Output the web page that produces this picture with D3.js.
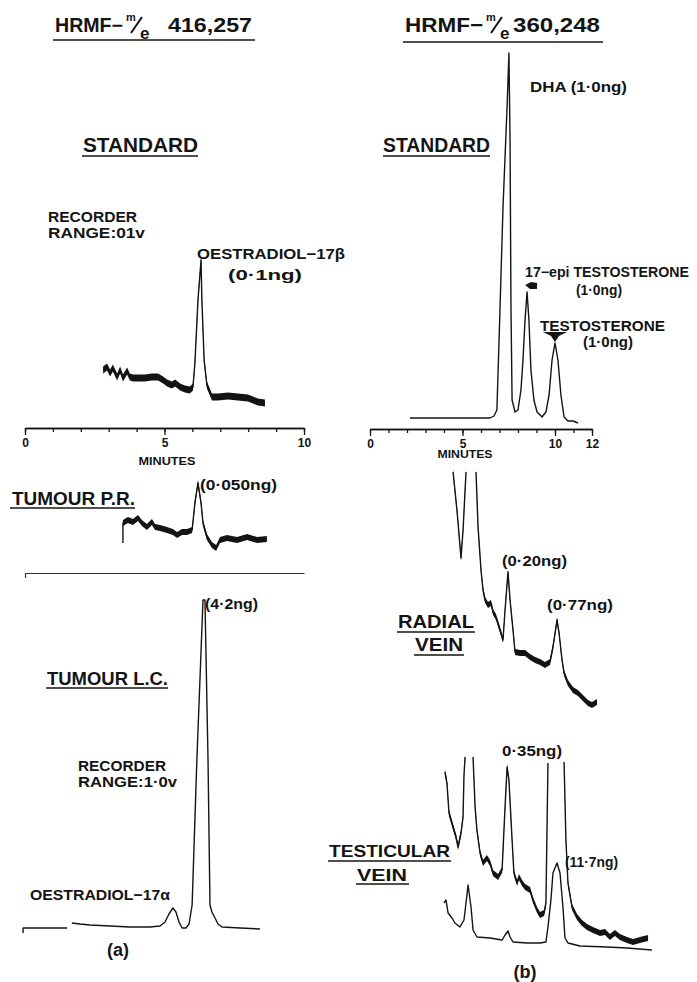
<!DOCTYPE html>
<html>
<head>
<meta charset="utf-8">
<script src="https://cdn.jsdelivr.net/npm/d3@7"></script>
<style>
  body { margin: 0; background: #fff; }
  svg text { font-family: "Liberation Sans", Arial, sans-serif; font-weight: bold; fill: #141414; }
</style>
</head>
<body>
<svg id="fig" width="697" height="982"></svg>
<script>
(function () {
  'use strict';

  // ---- panel (a): HRMF m/e 416,257 ; time in minutes, response in recorder units ----
  var stdATime = [2.80, 2.94, 3.05, 3.15, 3.30, 3.41, 3.51, 3.66, 3.76, 3.87, 4.05, 4.30, 4.55, 4.77, 4.95,
    5.09, 5.27, 5.38, 5.56, 5.73, 5.91, 6.02, 6.09, 6.20, 6.31, 6.34, 6.42, 6.52, 6.70, 6.92, 7.28,
    7.63, 7.99, 8.35, 8.60];
  var stdASignal = [40, 43, 37, 42, 33, 40, 32, 39, 33, 32, 32, 32, 33, 33, 30,
    27, 25, 27, 23, 21, 20, 23, 47, 110, 150, 110, 50, 25, 13, 13, 14,
    13, 12, 8, 7];

  var prTime = [3.51, 3.51, 3.69, 3.87, 4.05, 4.19, 4.37, 4.55, 4.66, 4.84, 5.09, 5.30, 5.45, 5.63, 5.81,
    5.99, 6.09, 6.20, 6.31, 6.38, 6.52, 6.70, 6.85, 6.99, 7.24, 7.60, 7.96, 8.32, 8.67];
  var prSignal = [7, 27, 30, 28, 32, 27, 23, 28, 23, 22, 20, 18, 15, 18, 18,
    20, 47, 67, 47, 27, 13, 5, 2, 10, 12, 10, 13, 10, 11];

  // null = pen lifted
  var lcTime = [-0.07, -0.07, 1.51, 1.60, 1.68, 1.97, 2.33, 3.05, 3.76, 4.48, 4.84, 5.02, 5.16, 5.30, 5.41,
    5.52, 5.63, 5.77, 5.88, 5.99, 6.16, 6.38, 6.45, 6.56, 6.63, 6.70, 6.81, 6.92, 7.06, 7.71, 8.42];
  var lcSignal = [-3, 2, 2, null, 7, 6, 5, 4, 3, 3, 4, 8, 16, 22, 18,
    8, 2, 2, 6, 25, 170, 330, 330, 170, 25, 18, 12, 6, 3, 2, 1];

  var axisATicks = [0, 5, 10];

  // ---- panel (b): HRMF m/e 360,248 ----
  var stdBTime = [2.16, 3.78, 5.41, 6.49, 6.70, 6.86, 7.03, 7.19, 7.41, 7.51, 7.57, 7.62, 7.68, 7.84, 8.00,
    8.16, 8.27, 8.38, 8.49, 8.59, 8.70, 8.86, 9.03, 9.30, 9.51, 9.68, 9.84, 10.00, 10.16, 10.32,
    10.49, 10.70, 10.97, 11.24];
  var stdBSignal = [2, 2, 2, 2, 4, 10, 113, 213, 313, 367, 280, 113, 20, 8, 10,
    30, 60, 100, 128, 100, 50, 20, 8, 3, 8, 25, 60, 77, 60, 25,
    3, -1, -1, -3];

  var radialTime = [4.49, 4.70, 4.92, 5.03, 5.19, 5.46, 5.73, 5.84, 6.00, 6.11, 6.22, 6.38, 6.54, 6.65, 6.81,
    7.03, 7.19, 7.30, 7.46, 7.57, 7.73, 7.84, 8.11, 8.38, 8.65, 8.92, 9.19, 9.46, 9.73, 9.89,
    10.11, 10.22, 10.38, 10.49, 10.70, 10.97, 11.24, 11.51, 11.78, 12.00, 12.27];
  var radialSignal = [238, 200, 152, 180, 238, null, 238, 183, 140, 120, 110, 105, 107, 98, 93,
    80, 70, 100, 138, 110, 80, 58, 57, 57, 53, 50, 48, 45, 48, 63,
    90, 77, 50, 37, 27, 20, 17, 12, 7, 5, 8];

  var testisTime = [4.05, 4.16, 4.27, 4.49, 4.65, 4.76, 4.92, 5.03, 5.08, 5.14, 5.35,
    5.57, 5.68, 5.78, 5.95, 6.11, 6.32, 6.49, 6.65, 6.92, 7.14, 7.30, 7.41, 7.51, 7.68, 7.78,
    7.95, 8.05, 8.22, 8.38, 8.65, 8.81, 9.03, 9.19, 9.41, 9.51, 9.62, 10.05,
    10.49, 10.59, 10.70, 10.92, 11.19, 11.46, 11.73, 12.05, 12.43, 12.70, 12.97, 13.24, 13.51,
    13.89, 14.22, 14.59, 15.03];
  var testisSignal = [178, 167, 137, 123, 113, 103, 117, 133, 175, 193, null,
    193, 143, 120, 97, 87, 92, 87, 77, 73, 80, 143, 183, 170, 110, 77,
    67, 73, 67, 63, 60, 50, 40, 35, 37, 47, 187, null,
    188, 110, 67, 43, 33, 27, 23, 20, 17, 18, 13, 17, 13,
    10, 8, 10, 12];

  var testisLowTime = [4.00, 4.11, 4.22, 4.43, 4.59, 4.86, 5.08, 5.19, 5.30, 5.46, 5.57, 5.78, 6.49, 7.14,
    7.30, 7.46, 7.57, 7.73, 8.49, 9.19, 9.51, 9.62, 9.78, 9.89, 10.11, 10.27, 10.43, 10.54,
    10.70, 11.35, 12.81, 13.89, 15.24];
  var testisLowSignal = [47, 50, 37, 32, 27, 23, 30, 47, 65, 43, 20, 13, 12, 10,
    15, 19, 13, 8, 7, 7, 8, 23, 50, 77, 87, 77, 43, 12,
    7, 4, 3, 2, 0];

  var axisBTicks = [0, 5, 10, 12];

  var svg = d3.select('#fig');
  svg.append('rect').attr('width', 697).attr('height', 982).attr('fill', '#fff');

  var xA = d3.scaleLinear().domain([0, 10]).range([25, 304]);
  var xB = d3.scaleLinear().domain([0, 12]).range([370, 592]);

  // one recorder unit per pixel, zero at the trace baseline
  function yAt (base) {
    return d3.scaleLinear().domain([0, 100]).range([base, base - 100]);
  }

  function zip (t, v) {
    return t.map(function (d, i) { return { t: d, v: v[i] }; });
  }

  // band = half-height (px) of the noisy pen trace
  function trace (x, y, t, v, band) {
    var data = zip(t, v);
    var ok = function (d) { return d.v !== null; };
    if (band) {
      svg.append('path')
        .datum(data)
        .attr('fill', '#141414')
        .attr('d', d3.area().defined(ok)
          .x(function (d) { return x(d.t); })
          .y0(function (d) { return y(d.v) - band; })
          .y1(function (d) { return y(d.v) + band; }));
    }
    svg.append('path')
      .datum(data)
      .attr('fill', 'none')
      .attr('stroke', '#141414')
      .attr('stroke-width', 1.4)
      .attr('stroke-linejoin', 'round')
      .attr('d', d3.line().defined(ok)
        .x(function (d) { return x(d.t); })
        .y(function (d) { return y(d.v); }));
  }

  function label (x, y, str, size, width, anchor) {
    var t = svg.append('text')
      .attr('x', x).attr('y', y)
      .attr('font-size', size)
      .attr('text-anchor', anchor || 'start')
      .text(str);
    if (width) t.attr('textLength', width).attr('lengthAdjust', 'spacingAndGlyphs');
    return t;
  }

  function uline (x1, x2, y) {
    svg.append('line')
      .attr('x1', x1).attr('x2', x2).attr('y1', y).attr('y2', y)
      .attr('stroke', '#141414').attr('stroke-width', 1.5);
  }

  // the m/e symbol: small m, slash, e
  function massCharge (x) {
    label(x, 21, 'm', 11);
    svg.append('line')
      .attr('x1', x + 5).attr('y1', 33).attr('x2', x + 16).attr('y2', 17)
      .attr('stroke', '#141414').attr('stroke-width', 2);
    label(x + 14, 39, 'e', 17);
  }

  function timeAxis (x, y, ticks, last) {
    var minor = svg.append('g')
      .attr('transform', 'translate(0,' + y + ')')
      .call(d3.axisBottom(x).tickValues(d3.range(0, last + 1)).tickSize(4).tickSizeOuter(0).tickFormat(''));
    var major = svg.append('g')
      .attr('transform', 'translate(0,' + y + ')')
      .call(d3.axisBottom(x).tickValues(ticks).tickSize(7).tickSizeOuter(0).tickPadding(3));
    [minor, major].forEach(function (g) {
      g.select('.domain').attr('stroke', '#141414').attr('stroke-width', 1.5);
      g.selectAll('line').attr('stroke', '#141414').attr('stroke-width', 1.3);
    });
    major.selectAll('text')
      .attr('font-family', '"Liberation Sans", Arial, sans-serif')
      .attr('font-weight', 'bold')
      .attr('font-size', 12)
      .attr('fill', '#141414');
  }

  // ---------- titles ----------
  label(55, 32, 'HRMF\u2212', 19.5, 68);
  massCharge(126);
  label(168, 32, '416,257', 21, 84);
  uline(53, 255, 40);

  label(405, 32, 'HRMF\u2212', 21, 78);
  massCharge(486);
  label(513, 32, '360,248', 21, 87);
  uline(403, 603, 42);

  // ---------- (a) standard ----------
  label(83, 152, 'STANDARD', 20, 115);
  uline(82, 198, 156);
  label(48, 222, 'RECORDER', 14, 89);
  label(48, 238, 'RANGE:01v', 14, 97);
  label(197, 259, 'OESTRADIOL\u221217\u03b2', 15, 148);
  label(228, 280, '(0\u00b71ng)', 15, 74);

  trace(xA, yAt(410), stdATime, stdASignal, 3.5);
  timeAxis(xA, 428, axisATicks, 10);
  label(167, 465, 'MINUTES', 10, 57, 'middle');

  // ---------- (a) tumour P.R. ----------
  label(12, 505, 'TUMOUR P.R.', 18, 123);
  uline(10, 135, 508);
  label(200, 490, '(0\u00b7050ng)', 15, 77);
  trace(xA, yAt(550), prTime, prSignal, 3);

  var lcAxis = svg.append('g')
    .attr('transform', 'translate(0,573)')
    .call(d3.axisBottom(xA).tickValues([0]).tickSize(5).tickSizeOuter(0).tickFormat(''));
  lcAxis.select('.domain').attr('stroke', '#333').attr('stroke-width', 1.2);
  lcAxis.selectAll('line').attr('stroke', '#333').attr('stroke-width', 1.2);

  // ---------- (a) tumour L.C. ----------
  label(205, 609, '(4\u00b72ng)', 15, 53);
  label(47, 685, 'TUMOUR L.C.', 18, 121);
  uline(46, 168, 688);
  label(78, 771, 'RECORDER', 14, 88);
  label(78, 787, 'RANGE:1\u00b70v', 14, 99);
  label(30, 900, 'OESTRADIOL\u221217\u03b1', 15, 140);
  trace(xA, yAt(930), lcTime, lcSignal, 0);
  label(118, 956, '(a)', 18, null, 'middle');

  // ---------- (b) standard ----------
  label(383, 152, 'STANDARD', 20, 107);
  uline(383, 490, 156);
  label(530, 92, 'DHA (1\u00b70ng)', 15, 97);
  label(525, 277, '17\u2212epi TESTOSTERONE', 14, 164);
  label(576, 295, '(1\u00b70ng)', 14, 46);
  label(540, 331, 'TESTOSTERONE', 15, 125);
  label(583, 347, '(1\u00b70ng)', 14, 50);

  var yStdB = yAt(420);
  trace(xB, yStdB, stdBTime, stdBSignal, 0);

  // peak markers
  var ex = xB(8.49) + 5, ey = yStdB(128) - 6;
  svg.append('path')
    .attr('d', 'M' + (ex - 7) + ',' + (ey - 1) + 'L' + (ex - 1) + ',' + (ey - 4) + 'L' + (ex + 5) + ',' + (ey - 3) +
      'L' + (ex + 5) + ',' + (ey + 3) + 'L' + (ex - 2) + ',' + (ey + 3) + 'Z')
    .attr('fill', '#141414');
  var tx = xB(10.0), ty = yStdB(77) - 7;
  svg.append('path')
    .attr('d', 'M' + (tx - 12) + ',' + (ty - 4) + 'L' + (tx + 12) + ',' + (ty - 4) + 'L' + (tx + 4) + ',' + ty +
      'L' + tx + ',' + (ty + 6) + 'L' + (tx - 4) + ',' + ty + 'Z')
    .attr('fill', '#141414');

  timeAxis(xB, 429, axisBTicks, 12);
  label(465, 458, 'MINUTES', 10, 55, 'middle');

  // ---------- (b) radial vein ----------
  label(502, 566, '(0\u00b720ng)', 15, 65);
  label(547, 610, '(0\u00b777ng)', 15, 66);
  label(398, 628, 'RADIAL', 18, 76);
  uline(397, 475, 632);
  label(415, 651, 'VEIN', 18, 48);
  uline(414, 464, 655);
  trace(xB, yAt(710), radialTime, radialSignal, 3);

  // ---------- (b) testicular vein ----------
  label(502, 756, '0\u00b735ng)', 15, 60);
  label(565, 867, '(11\u00b77ng)', 15, 53);
  label(329, 857, 'TESTICULAR', 17, 121);
  uline(328, 451, 861);
  label(357, 881, 'VEIN', 17, 50);
  uline(356, 409, 884);
  trace(xB, yAt(950), testisTime, testisSignal, 3);
  trace(xB, yAt(950), testisLowTime, testisLowSignal, 0);
  label(525, 978, '(b)', 18, null, 'middle');
}());
</script>
</body>
</html>
